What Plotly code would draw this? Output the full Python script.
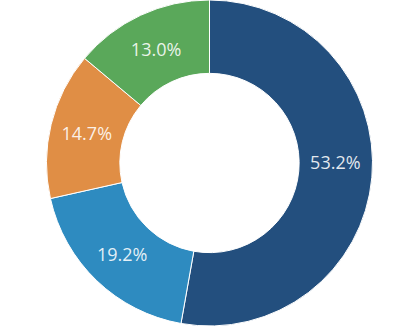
import plotly.graph_objects as go

labels = ["A", "B", "C", "D"]
values = [52.8, 18.7, 14.6, 13.9]
# printed percentage labels
pct_text = ["53.2%<br> ", "19.2%", "14.7%", "13.0%"]
colors = ["#234f7e", "#2e8bc0", "#e08e45", "#5aa85a"]

fig = go.Figure(go.Pie(
    labels=labels,
    values=values,
    text=pct_text,
    hole=0.55,
    sort=False,
    direction="clockwise",
    rotation=0,
    marker=dict(colors=colors, line=dict(color="white", width=1)),
    textinfo="text",
    textposition="inside",
    insidetextorientation="horizontal",
    textfont=dict(family="Open Sans", size=18, color="rgba(255,255,255,0.88)"),
    showlegend=False,
    hoverinfo="none",
))
fig.update_layout(
    width=415, height=330,
    margin=dict(l=4, r=0, t=0, b=4),
    paper_bgcolor="white",
    plot_bgcolor="white",
)
fig.write_html("out.html")
